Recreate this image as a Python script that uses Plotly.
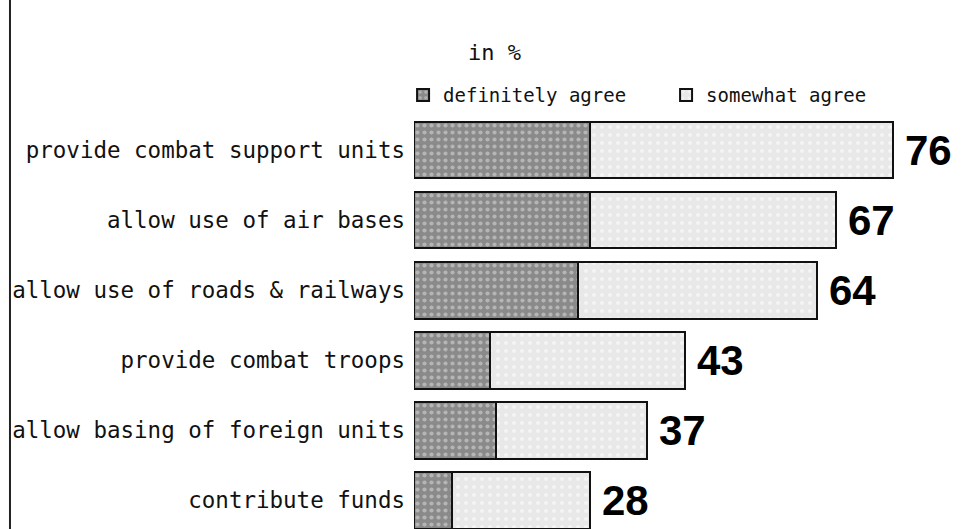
import plotly.graph_objects as go

categories = [
    "provide combat support units",
    "allow use of air bases",
    "allow use of roads & railways",
    "provide combat troops",
    "allow basing of foreign units",
    "contribute funds",
]
definitely = [28, 28, 26, 12, 13, 6]
somewhat = [48, 39, 38, 31, 24, 22]
totals = [76, 67, 64, 43, 37, 28]
series_names = ["definitely agree", "somewhat agree"]

LABEL_FONT = "DejaVu Sans Mono"

fig = go.Figure()
fig.add_trace(go.Bar(
    name=series_names[0], y=categories, x=definitely, orientation="h",
    marker=dict(color="#8e8e8e",
                pattern=dict(shape=".", fgcolor="#e0e0e0", bgcolor="#8a8a8a", size=7, solidity=0.28),
                line=dict(color="#111111", width=2)),
    hoverinfo="x+y",
))
fig.add_trace(go.Bar(
    name=series_names[1], y=categories, x=somewhat, orientation="h",
    marker=dict(color="#ebebeb",
                pattern=dict(shape=".", fgcolor="#ffffff", bgcolor="#e8e8e8", size=8, solidity=0.2),
                line=dict(color="#111111", width=2)),
    hoverinfo="x+y",
))

for c, t in zip(categories, totals):
    fig.add_annotation(x=t, y=c, xref="x", yref="y", text=str(t), showarrow=False,
                       xanchor="left", yanchor="middle", xshift=10,
                       font=dict(family="Liberation Sans", size=42, color="#000000", weight="bold"))

fig.add_annotation(x=0.148, y=1.152, xref="paper", yref="paper", text="in %", showarrow=False,
                   xanchor="center", yanchor="middle",
                   font=dict(family=LABEL_FONT, size=22, color="#111111"))

fig.add_shape(type="line", xref="paper", yref="paper", x0=-0.7386, x1=-0.7386, y0=-0.05, y1=1.3,
              line=dict(color="#222222", width=2))

fig.update_layout(
    width=961, height=529,
    margin=dict(l=414, r=0, t=115, b=0, autoexpand=False),
    barmode="stack", bargap=0.19,
    plot_bgcolor="white", paper_bgcolor="white",
    showlegend=True,
    legend=dict(orientation="h", x=-0.02, y=1.048, xanchor="left", yanchor="middle",
                font=dict(family=LABEL_FONT, size=19, color="#111111"),
                traceorder="normal", itemwidth=30, entrywidth=218, entrywidthmode="pixels",
                bgcolor="rgba(0,0,0,0)"),
    xaxis=dict(range=[0, 86.8], visible=False, fixedrange=True),
    yaxis=dict(type="category", range=[5.41, -0.5], showline=False, showgrid=False, zeroline=False,
               ticks="", ticklabelstandoff=8, automargin=False, fixedrange=True,
               tickfont=dict(family=LABEL_FONT, size=22.5, color="#111111")),
)

fig.write_html("out.html", config={"displayModeBar": False},
               post_script="document.body.style.margin='0';document.body.style.padding='0';")
